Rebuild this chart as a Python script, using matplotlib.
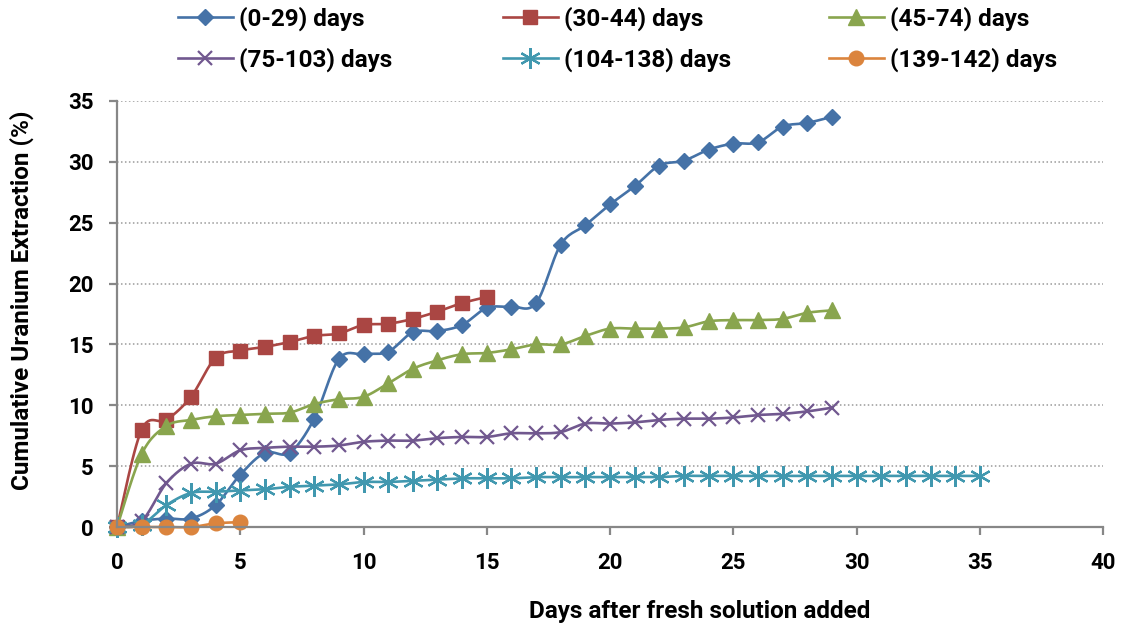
import numpy as np
import matplotlib.pyplot as plt

plt.rcParams['font.family'] = ['Roboto', 'DejaVu Sans']
plt.rcParams['font.weight'] = 'bold'

# cumulative extraction (%) per day, one series per leaching period
days_a = list(range(0, 30))
ext_a = [0, 0.5, 0.7, 0.7, 1.8, 4.3, 6.1, 6.1, 8.9, 13.8, 14.2, 14.4, 16.0, 16.1, 16.6,
         18.0, 18.1, 18.4, 23.2, 24.8, 26.5, 28.0, 29.7, 30.1, 31.0, 31.5, 31.6, 32.9,
         33.2, 33.7]

days_b = list(range(0, 16))
ext_b = [0, 8.0, 8.8, 10.7, 13.9, 14.5, 14.8, 15.2, 15.7, 15.9, 16.6, 16.7, 17.1, 17.7,
         18.4, 18.9]

days_c = list(range(0, 30))
ext_c = [0, 6.0, 8.3, 8.8, 9.1, 9.2, 9.3, 9.4, 10.1, 10.5, 10.7, 11.8, 13.0, 13.7, 14.2,
         14.3, 14.6, 15.0, 15.0, 15.7, 16.3, 16.3, 16.3, 16.4, 16.9, 17.0, 17.0, 17.1,
         17.6, 17.8]

days_d = list(range(0, 30))
ext_d = [0, 0.5, 3.6, 5.2, 5.2, 6.3, 6.5, 6.6, 6.6, 6.7, 7.0, 7.1, 7.1, 7.3, 7.4, 7.4,
         7.7, 7.7, 7.8, 8.5, 8.5, 8.6, 8.8, 8.9, 8.9, 9.0, 9.2, 9.3, 9.5, 9.8]

days_e = list(range(0, 36))
ext_e = [0, 0.2, 1.8, 2.8, 2.9, 3.0, 3.1, 3.3, 3.4, 3.5, 3.7, 3.7, 3.8, 3.9, 4.0, 4.0,
         4.0, 4.1, 4.1, 4.1, 4.1, 4.1, 4.1, 4.2, 4.2, 4.2, 4.2, 4.2, 4.2, 4.2, 4.2, 4.2,
         4.2, 4.2, 4.2, 4.2]

days_f = [0, 1, 2, 3, 4, 5]
ext_f = [0, 0, 0, 0, 0.3, 0.4]

labels = ['(0-29) days', '(30-44) days', '(45-74) days',
          '(75-103) days', '(104-138) days', '(139-142) days']


def smooth(x, y, steps=16):
    # cardinal spline through the points, like a spreadsheet "smoothed line"
    x = np.asarray(x, float)
    y = np.asarray(y, float)
    px = np.concatenate([[x[0]], x, [x[-1]]])
    py = np.concatenate([[y[0]], y, [y[-1]]])
    t = np.linspace(0, 1, steps)
    xs, ys = [], []
    for i in range(1, len(px) - 2):
        p0, p1, p2, p3 = (np.array([px[j], py[j]]) for j in (i - 1, i, i + 1, i + 2))
        c1 = p1 + (p2 - p0) / 6
        c2 = p2 - (p3 - p1) / 6
        b = ((1 - t) ** 3)[:, None] * p1 + (3 * (1 - t) ** 2 * t)[:, None] * c1 \
            + (3 * (1 - t) * t ** 2)[:, None] * c2 + (t ** 3)[:, None] * p2
        xs.extend(b[:, 0])
        ys.extend(b[:, 1])
    return np.array(xs), np.array(ys)


fig = plt.figure(figsize=(11.21, 6.32), dpi=100)
ax = fig.add_axes([0.1044, 0.1661, 0.8796, 0.6741])

series = [
    (days_a, ext_a, '#4572A7', dict(marker='D', ms=8.5)),
    (days_b, ext_b, '#AA4643', dict(marker='s', ms=10)),
    (days_c, ext_c, '#89A54E', dict(marker='^', ms=11)),
    (days_d, ext_d, '#71588F', dict(marker='x', ms=10, mew=1.6)),
    (days_e, ext_e, '#4198AF', dict(marker=(6, 2, 0), ms=15, mew=1.6)),
    (days_f, ext_f, '#DB843D', dict(marker='o', ms=10.5)),
]

handles = []
for (x, y, c, mk), lab in zip(series, labels):
    sx, sy = smooth(x, y)
    ax.plot(sx, sy, color=c, lw=1.9, solid_capstyle='round', clip_on=False)
    ax.plot(x, y, ls='none', color=c, mec=c, clip_on=False, **mk)
    h, = ax.plot([], [], color=c, lw=1.9, mec=c, label=lab, **mk)
    handles.append(h)

ax.set_xlim(0, 40)
ax.set_ylim(0, 35)
ax.set_xticks(range(0, 41, 5))
ax.set_yticks(range(0, 36, 5))
for s in ['top', 'right']:
    ax.spines[s].set_visible(False)
for s in ['left', 'bottom']:
    ax.spines[s].set_color('#878787')
    ax.spines[s].set_linewidth(1.6)
ax.tick_params(direction='out', length=6, width=1.6, color='#878787', labelsize=16)
ax.tick_params(axis='x', pad=12)
ax.tick_params(axis='y', pad=11)
for lbl in ax.get_xticklabels() + ax.get_yticklabels():
    lbl.set_fontweight('bold')
for yv in range(5, 36, 5):
    ax.axhline(yv, color='#9a9a9a', lw=1.1, ls=(0, (1, 1.6)), zorder=0)

fig.text(0.624, 0.032, 'Days after fresh solution added', ha='center', va='center',
         fontsize=17.5, fontweight='bold')
fig.text(0.0196, 0.525, 'Cumulative Uranium Extraction (%)', ha='center', va='center',
         rotation=90, fontsize=17.5, fontweight='bold')

# legend laid out as three fixed columns of two rows
col_x = [178, 503, 829]
for j, x0 in enumerate(col_x):
    idx = [j, j + 3]
    fig.legend([handles[i] for i in idx], [labels[i] for i in idx],
               loc='upper left', bbox_to_anchor=(x0 / 1121, 0.99), frameon=False,
               prop={'size': 17.5, 'weight': 'bold'}, handlelength=2.25,
               handletextpad=0.25, labelspacing=0.7, borderpad=0, borderaxespad=0)

fig.savefig('out.png', dpi=100)
